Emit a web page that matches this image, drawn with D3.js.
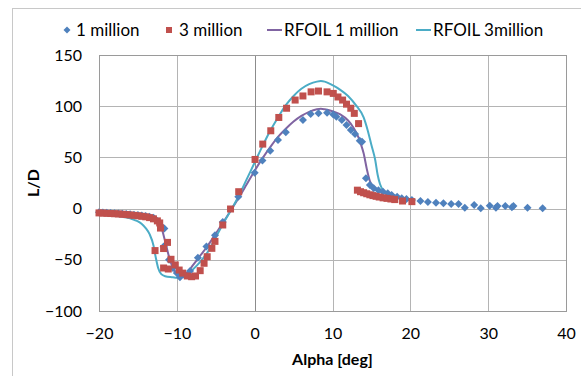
<!DOCTYPE html>
<html>
<head>
<meta charset="utf-8">
<script src="https://cdn.jsdelivr.net/npm/d3@7"></script>
<style>
  body { margin: 0; background: #fff; }
  svg { font-family: Lato, "Open Sans", sans-serif; }
</style>
</head>
<body>
<div id="chart"></div>
<script>
// measured data, 1 million
const alpha1M = [-20, -19.5, -19, -18.5, -18, -17.5, -17, -16.5, -16, -15.5, -15, -14.5, -14, -13.5, -13, -12.5, -12, -11.6, -11.7, -11, -10.5, -10, -9.6, -9, -8.3, -7.3, -6.2, -5.1, -4.1, -2.1, 0, 1, 2, 3, 4, 6.2, 7.2, 8.2, 9.3, 10.1, 10.5, 11.2, 11.8, 12.35, 12.9, 13.5, 13.8, 14.3, 14.8, 15.3, 15.9, 16.5, 17.1, 17.6, 18.3, 18.9, 19.5, 20.2, 21.3, 22.25, 23.3, 24.25, 25.25, 26.2, 27, 28.2, 29.05, 30.2, 31, 31.2, 32.2, 33.05, 33.25, 35.05, 37];
const ld1M = [-3.5, -3.8, -4, -4.2, -4.5, -4.8, -5, -5.3, -5.6, -6, -6.3, -6.8, -7.3, -8, -9, -12, -17, -19.5, -37, -50, -58, -63, -67, -65, -61, -48, -37, -26, -13, 11.6, 35, 47, 56.5, 67, 74.5, 86.5, 92.4, 93, 93.7, 92, 89.8, 86.5, 81.6, 76.8, 72.8, 66.3, 65.3, 29.6, 23, 19.8, 18, 16.5, 15, 13.3, 11.6, 10, 9.4, 8.4, 7.4, 6.4, 5.8, 5.2, 4.5, 4.5, 0.9, 3.5, 0.3, 2.8, 0.9, 2.5, 2.5, 1.3, 2.5, 0.9, 0.3];

// measured data, 3 million
const alpha3M = [-20, -19.5, -19, -18.5, -18, -17.5, -17, -16.5, -16, -15.5, -15, -14.5, -14, -13.5, -13, -12.5, -12.2, -12.1, -12.8, -11.7, -11.2, -11.7, -11.1, -10.75, -10.2, -9.7, -9.25, -8.65, -8.1, -7.6, -7, -6.5, -6.1, -5.5, -5.1, -4.1, -3.1, -2.05, 0.05, 1.04, 2.07, 3.1, 4.1, 5.2, 6.2, 7.25, 8.2, 9.3, 10.1, 10.7, 11.3, 11.8, 12.35, 12.8, 13.35, 13.2, 13.6, 14, 14.4, 14.8, 15.2, 15.6, 16, 16.5, 17, 17.5, 18, 19, 20.2];
const ld3M = [-4.2, -4.4, -4.6, -4.8, -5, -5.2, -5.5, -5.8, -6.2, -6.6, -7, -7.5, -8, -8.8, -10, -12, -14, -19, -41, -39, -33, -58, -59, -49.5, -55, -60, -63, -65.8, -66.5, -65.8, -60.6, -53.4, -47, -38.8, -32, -16, -0.4, 16.5, 48, 63, 76, 89, 98, 106, 110, 114, 114.8, 114, 112.5, 109, 106, 102, 98, 93, 83, 18, 16.5, 15.5, 14.5, 13.5, 12.7, 12, 11.3, 10.5, 10, 9.4, 8.8, 7.4, 6.8];

// RFOIL 1 million
const alphaRf1 = [-20, -18, -16, -14, -13, -12.5, -12, -11.5, -11, -10.5, -10, -9.5, -9, -8.5, -8, -7, -6, -5, -4, -3, -2, -1, 0, 1, 2, 3, 4, 5, 6, 7, 8, 8.5, 9, 10, 11, 12, 12.7, 13.2, 13.6, 14, 14.4, 14.8, 15.3, 16, 17, 18, 19, 20];
const ldRf1 = [-4, -4.6, -5.6, -7.6, -9.5, -12.5, -18, -32, -47, -58, -64, -65.5, -64, -61, -56, -46, -36, -24.5, -13, -1, 11, 24, 37, 49, 60, 70, 78, 85, 90.5, 94.5, 97, 97.5, 97, 95, 92, 86, 79, 72, 64, 54, 39, 27, 21, 17.5, 15, 12.5, 10.5, 9];

// RFOIL 3 million
const alphaRf3 = [-20, -19, -18, -17, -16, -15.5, -15, -14.5, -14, -13.5, -13, -12.7, -12.4, -12, -11.5, -10.5, -10, -9.5, -9, -8.5, -8, -7, -6, -5, -4, -3, -2, -1, 0, 1, 2, 3, 4, 5, 6, 7, 8, 8.5, 9, 10, 11, 12, 13, 14, 14.5, 15, 15.5, 15.8, 16.1, 16.5, 17, 18, 19, 20];
const ldRf3 = [-4.5, -5.5, -6.5, -8, -9.5, -11, -12.5, -15, -19, -25, -36, -48, -58, -64, -66, -67, -67.5, -67, -66, -64, -60, -52, -42, -28, -14, -1, 13, 29, 45, 61, 76, 89, 101, 110, 117, 121.5, 124, 124.5, 124, 120.5, 116, 110, 101, 89, 77, 62, 47, 33, 24, 18, 15, 12, 10, 8.5];

const xTicks = [-20, -10, 0, 10, 20, 30, 40];
const yTicks = [-100, -50, 0, 50, 100, 150];
const legendNames = ['1 million', '3 million', 'RFOIL 1 million', 'RFOIL 3million'];

const W = 581, H = 376;
const plot = { left: 99, right: 566, top: 55, bottom: 311 };

const svg = d3.select('#chart').append('svg')
  .attr('width', W)
  .attr('height', H);

// chart area border (cut off on right/bottom)
svg.append('rect')
  .attr('x', 12.5).attr('y', 8.5)
  .attr('width', 620).attr('height', 420)
  .attr('fill', '#fff')
  .attr('stroke', '#c8c8c8');

const x = d3.scaleLinear().domain([-20, 40]).range([plot.left, plot.right]);
const y = d3.scaleLinear().domain([-100, 150]).range([plot.bottom, plot.top]);

// gridlines
svg.append('g')
  .selectAll('line')
  .data(yTicks)
  .enter()
  .append('line')
  .attr('x1', plot.left).attr('x2', plot.right)
  .attr('y1', (d) => Math.round(y(d)) + 0.5)
  .attr('y2', (d) => Math.round(y(d)) + 0.5)
  .attr('stroke', '#b4b4b4');

svg.append('g')
  .selectAll('line')
  .data(xTicks)
  .enter()
  .append('line')
  .attr('y1', plot.top).attr('y2', plot.bottom)
  .attr('x1', (d) => Math.round(x(d)) + 0.5)
  .attr('x2', (d) => Math.round(x(d)) + 0.5)
  .attr('stroke', (d) => (d === 0 ? '#8c8c8c' : '#b4b4b4'));

svg.append('rect')
  .attr('x', plot.left + 0.5).attr('y', plot.top + 0.5)
  .attr('width', plot.right - plot.left).attr('height', plot.bottom - plot.top)
  .attr('fill', 'none')
  .attr('stroke', '#9a9a9a');

// axes (labels only)
const yAxis = svg.append('g')
  .attr('transform', `translate(${plot.left},0)`)
  .call(d3.axisLeft(y).tickValues(yTicks).tickSize(0).tickPadding(17));
const xAxis = svg.append('g')
  .attr('transform', `translate(0,${plot.bottom})`)
  .call(d3.axisBottom(x).tickValues(xTicks).tickSize(0).tickPadding(17));
[yAxis, xAxis].forEach((g) => {
  g.select('.domain').remove();
  g.selectAll('text')
    .attr('font-family', 'Lato, sans-serif')
    .attr('font-size', 16)
    .attr('fill', '#000');
});

svg.append('text')
  .attr('x', (plot.left + plot.right) / 2)
  .attr('y', 365)
  .attr('text-anchor', 'middle')
  .attr('font-size', 16)
  .attr('font-weight', 'bold')
  .text('Alpha [deg]');

svg.append('text')
  .attr('transform', `translate(39,${(plot.top + plot.bottom) / 2}) rotate(-90)`)
  .attr('text-anchor', 'middle')
  .attr('font-size', 16)
  .attr('font-weight', 'bold')
  .text('L/D');

// lines
const line = d3.line()
  .x((d) => x(d[0]))
  .y((d) => y(d[1]))
  .curve(d3.curveMonotoneX);

svg.append('path')
  .datum(d3.zip(alphaRf1, ldRf1))
  .attr('fill', 'none')
  .attr('stroke', '#8064A2')
  .attr('stroke-width', 2)
  .attr('d', line);

svg.append('path')
  .datum(d3.zip(alphaRf3, ldRf3))
  .attr('fill', 'none')
  .attr('stroke', '#4BACC6')
  .attr('stroke-width', 2)
  .attr('d', line);

// markers
svg.append('g')
  .selectAll('path')
  .data(d3.zip(alpha1M, ld1M))
  .enter()
  .append('path')
  .attr('transform', (d) => `translate(${x(d[0])},${y(d[1])})`)
  .attr('d', 'M0,-4L4,0L0,4L-4,0Z')
  .attr('fill', '#4F81BD');

svg.append('g')
  .selectAll('rect')
  .data(d3.zip(alpha3M, ld3M))
  .enter()
  .append('rect')
  .attr('x', (d) => x(d[0]) - 3.5)
  .attr('y', (d) => y(d[1]) - 3.5)
  .attr('width', 7)
  .attr('height', 7)
  .attr('fill', '#C0504D');

// legend
const legend = svg.append('g').attr('font-size', 17);
legend.append('path')
  .attr('transform', 'translate(67,30)')
  .attr('d', 'M0,-3.5L3.5,0L0,3.5L-3.5,0Z')
  .attr('fill', '#4F81BD');
legend.append('rect')
  .attr('x', 166).attr('y', 27).attr('width', 6).attr('height', 6)
  .attr('fill', '#C0504D');
legend.append('line')
  .attr('x1', 267).attr('x2', 282).attr('y1', 30).attr('y2', 30)
  .attr('stroke', '#8064A2').attr('stroke-width', 2);
legend.append('line')
  .attr('x1', 416).attr('x2', 431).attr('y1', 30).attr('y2', 30)
  .attr('stroke', '#4BACC6').attr('stroke-width', 2);
[76, 179, 284, 433].forEach((lx, i) => {
  legend.append('text')
    .attr('x', lx)
    .attr('y', 36)
    .text(legendNames[i]);
});
</script>
</body>
</html>
